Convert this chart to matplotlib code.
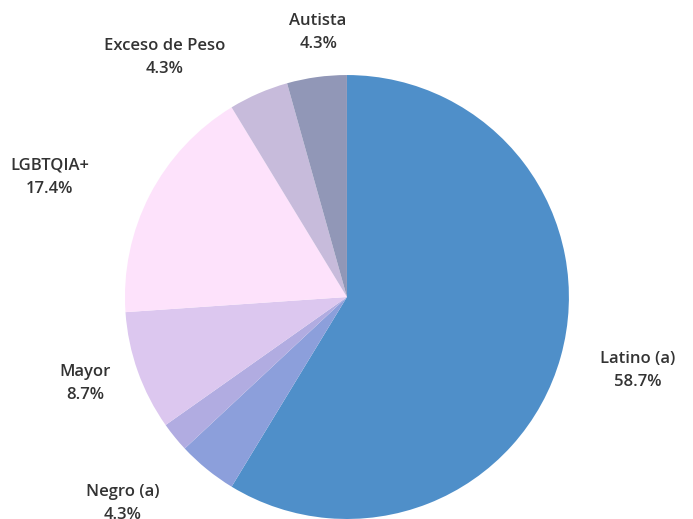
import matplotlib

matplotlib.use("Agg")
import matplotlib.pyplot as plt

# group counts (46 respondents in total)
groups = ["Latino (a)", "Negro (a)", "Otro", "Mayor", "LGBTQIA+", "Exceso de Peso", "Autista"]
counts = [27, 2, 1, 4, 8, 2, 2]
shown = [True, True, False, True, True, True, True]
colors = ["#4f8fc9", "#8c9fdb", "#b1ace1", "#dcc7ef", "#fde2fb", "#c7bbdb", "#9197b7"]

# label anchor points (data units, pie radius = 1)
label_xy = [(1.31, -0.33), (-1.01, -0.93), None, (-1.18, -0.39),
            (-1.34, 0.54), (-0.82, 1.08), (-0.13, 1.19)]

plt.rcParams["font.family"] = ["Open Sans", "DejaVu Sans"]

fig = plt.figure(figsize=(6.93, 5.19), dpi=100)
ax = fig.add_axes([0, 0, 1, 1])
ax.pie(counts, colors=colors, startangle=90, counterclock=False,
       wedgeprops=dict(linewidth=0))
ax.set_aspect("equal")
ax.set_xlim(-1.563, 1.559)
ax.set_ylim(-1.0, 1.338)
ax.axis("off")

total = sum(counts)
for name, n, show, xy in zip(groups, counts, shown, label_xy):
    if not show:
        continue
    pct = 100 * n / total
    ax.text(xy[0], xy[1], f"{name}\n{pct:.1f}%", ha="center", va="center",
            fontsize=12, fontweight="semibold", color="#333333",
            linespacing=1.6, clip_on=False)

fig.savefig("out.png", dpi=100)
